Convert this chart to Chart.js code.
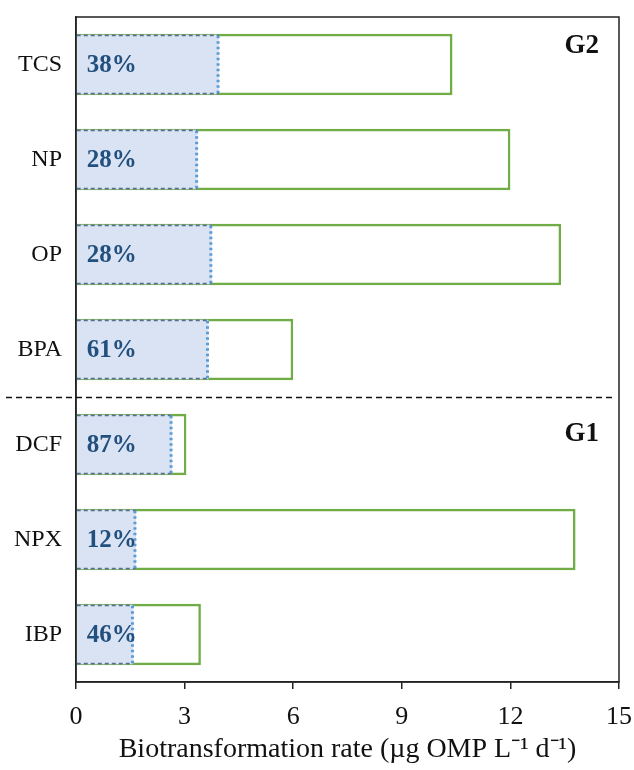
<!DOCTYPE html>
<html>
<head>
<meta charset="utf-8">
<script src="https://cdn.jsdelivr.net/npm/chart.js@4.4.1/dist/chart.umd.min.js"></script>
<style>
  html, body { margin: 0; padding: 0; background: #ffffff; }
  #wrap { width: 634px; height: 770px; position: relative; }
</style>
</head>
<body>
<div id="wrap"><canvas id="chart"></canvas></div>
<script>
// Compounds, top to bottom (G2 group first, then G1)
const compounds = ['TCS', 'NP', 'OP', 'BPA', 'DCF', 'NPX', 'IBP'];
// Overall biotransformation rate (µg OMP L-1 d-1)
const totalRate = [10.4, 12.0, 13.4, 6.0, 3.05, 13.8, 3.45];
// Share of the overall rate (%) shown inside each bar
const sharePct = [38, 28, 28, 61, 87, 12, 46];
// X axis ticks
const xTicks = [0, 3, 6, 9, 12, 15];
// Group names and the index of the first compound of each group
const groupNames = ['G2', 'G1'];
const groupStart = [0, 4];

const partRate = totalRate.map((v, i) => v * sharePct[i] / 100);

const SERIF = '"Liberation Serif", "Times New Roman", serif';

// Draws the frame, the dashed group separator, group names, the
// dashed/dotted outlines of the inner bars and the percentage labels.
const decorations = {
  id: 'decorations',
  afterDatasetsDraw(chart) {
    const ctx = chart.ctx;
    const area = chart.chartArea;
    const yScale = chart.scales.y;
    const inner = chart.getDatasetMeta(1);

    ctx.save();
    // inner bar outlines
    inner.data.forEach((bar, i) => {
      const p = bar.getProps(['x', 'y', 'base', 'height'], true);
      const top = p.y - p.height / 2, bottom = p.y + p.height / 2;
      ctx.setLineDash([4, 3]);
      ctx.lineWidth = 1.8;
      ctx.strokeStyle = '#56708a';
      ctx.beginPath();
      ctx.moveTo(p.base, top + 0.5); ctx.lineTo(p.x, top + 0.5);
      ctx.moveTo(p.base, bottom - 0.5); ctx.lineTo(p.x, bottom - 0.5);
      ctx.stroke();
      ctx.setLineDash([2.5, 3]);
      ctx.lineWidth = 3;
      ctx.strokeStyle = '#5b9bd5';
      ctx.beginPath();
      ctx.moveTo(p.x - 1, top + 1); ctx.lineTo(p.x - 1, bottom);
      ctx.stroke();

      ctx.setLineDash([]);
      ctx.fillStyle = '#22507e';
      ctx.font = 'bold 25px ' + SERIF;
      ctx.textAlign = 'left';
      ctx.textBaseline = 'middle';
      ctx.fillText(sharePct[i] + '%', p.base + 10, p.y + 1);
    });

    // frame around the plot area
    ctx.setLineDash([]);
    ctx.lineWidth = 1.5;
    ctx.strokeStyle = '#222';
    ctx.strokeRect(area.left, area.top, area.right - area.left, area.bottom - area.top);

    // dashed separator between the groups
    const yA = yScale.getPixelForValue(groupStart[1] - 1);
    const yB = yScale.getPixelForValue(groupStart[1]);
    const ySep = Math.round((yA + yB) / 2) + 0.5;
    ctx.setLineDash([6, 4]);
    ctx.lineWidth = 1.5;
    ctx.strokeStyle = '#111';
    ctx.beginPath();
    ctx.moveTo(area.left - 70, ySep);
    ctx.lineTo(area.right - 3, ySep);
    ctx.stroke();

    // group names
    ctx.setLineDash([]);
    ctx.fillStyle = '#111';
    ctx.font = 'bold 27px ' + SERIF;
    ctx.textAlign = 'right';
    ctx.textBaseline = 'middle';
    ctx.fillText(groupNames[0], area.right - 20, area.top + 29);
    ctx.fillText(groupNames[1], area.right - 20, ySep + 37);
    ctx.restore();
  }
};

new Chart(document.getElementById('chart'), {
  type: 'bar',
  data: {
    labels: compounds,
    datasets: [
      {
        label: 'Biotransformation rate',
        data: totalRate,
        backgroundColor: '#ffffff',
        borderColor: '#70ad47',
        borderWidth: 2.6,
        borderSkipped: false,
        barPercentage: 0.645,
        categoryPercentage: 1.0,
        grouped: false,
        order: 2
      },
      {
        label: 'Share',
        data: partRate,
        backgroundColor: '#dae3f3',
        borderWidth: 0,
        barPercentage: 0.625,
        categoryPercentage: 1.0,
        grouped: false,
        order: 1
      }
    ]
  },
  options: {
    indexAxis: 'y',
    responsive: true,
    maintainAspectRatio: false,
    animation: false,
    devicePixelRatio: 1,
    layout: { padding: { top: 17, right: 15, left: 0, bottom: 0 } },
    plugins: {
      legend: { display: false },
      tooltip: { enabled: false }
    },
    scales: {
      x: {
        type: 'linear',
        min: xTicks[0],
        max: xTicks[xTicks.length - 1],
        afterBuildTicks(scale) { scale.ticks = xTicks.map(v => ({ value: v })); },
        afterFit(scale) {
          scale.height = 88;
          scale.paddingLeft = 0;
          scale.paddingRight = 0;
        },
        grid: {
          drawOnChartArea: false,
          drawTicks: true,
          tickLength: 7,
          color: '#222',
          lineWidth: 1.5
        },
        border: { display: true, color: '#222', width: 1.5 },
        ticks: {
          color: '#111',
          padding: 13,
          font: { family: SERIF, size: 26 }
        },
        title: {
          display: true,
          text: 'Biotransformation rate (µg OMP L⁻¹ d⁻¹)',
          color: '#111',
          font: { family: SERIF, size: 28 },
          padding: { top: 0, bottom: 4 }
        }
      },
      y: {
        afterFit(scale) {
          scale.width = 76;
          scale.paddingTop = 0;
          scale.paddingBottom = 0;
        },
        grid: { drawOnChartArea: false, drawTicks: false },
        border: { display: true, color: '#222', width: 1.5 },
        ticks: {
          color: '#111',
          padding: 14,
          font: { family: SERIF, size: 24 }
        }
      }
    }
  },
  plugins: [decorations]
});
</script>
</body>
</html>
